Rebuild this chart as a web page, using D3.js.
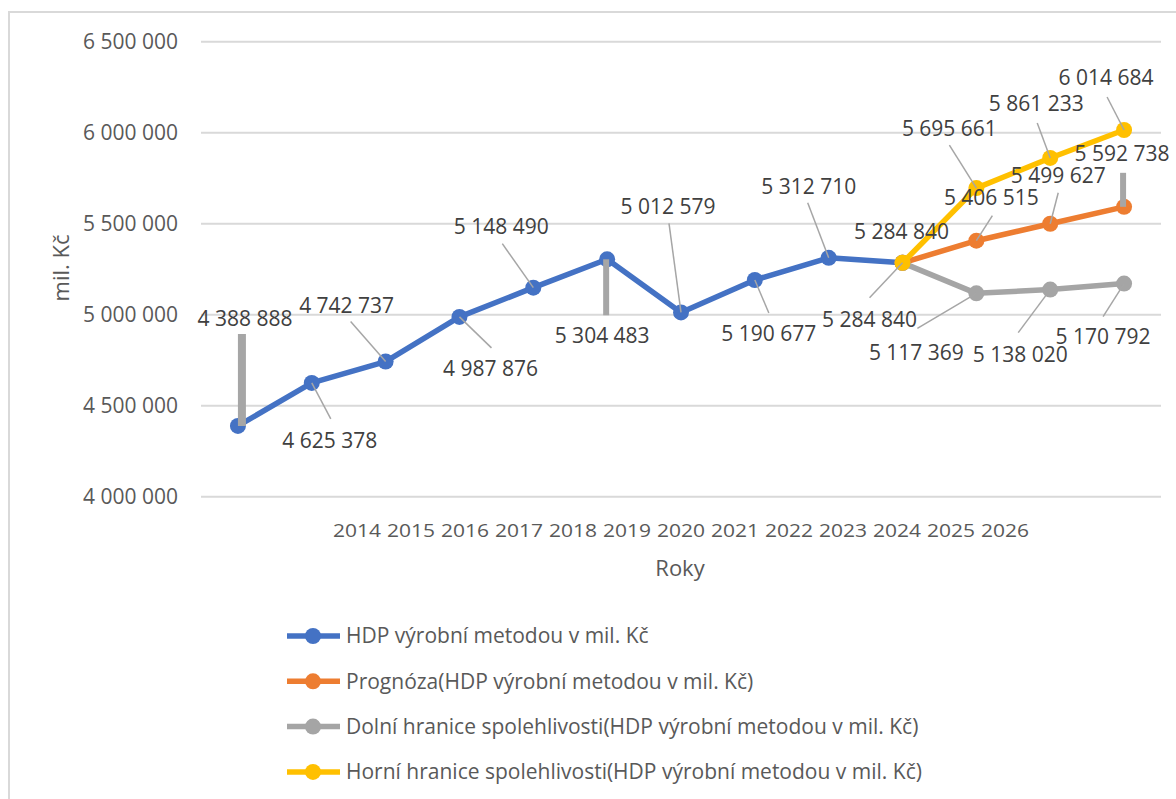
<!DOCTYPE html>
<html>
<head>
<meta charset="utf-8">
<script src="https://d3js.org/d3.v7.min.js"></script>
<style>
  body { margin: 0; background: #fff; }
  svg { display: block; font-family: "Open Sans", sans-serif; }
  .grid line { stroke: #d9d9d9; stroke-width: 2px; }
  .tick-y { fill: #595959; font-size: 21px; }
  .tick-x { fill: #595959; font-size: 19px; }
  .axis-title { fill: #595959; font-size: 22px; }
  .dlabel { fill: #404040; font-size: 21px; }
  .leader { stroke: #a6a6a6; }
  .legend text { fill: #595959; font-size: 21px; }
</style>
</head>
<body>
<svg width="1176" height="799"></svg>
<script>
// categories
var years = [2014, 2015, 2016, 2017, 2018, 2019, 2020, 2021, 2022, 2023, 2024, 2025, 2026];
var yTicks = [4000000, 4500000, 5000000, 5500000, 6000000, 6500000];

// series values (null = no value for that year)
var hdp      = [4388888, 4625378, 4742737, 4987876, 5148490, 5304483, 5012579, 5190677, 5312710, 5284840, null, null, null];
var prognoza = [null, null, null, null, null, null, null, null, null, 5284840, 5406515, 5499627, 5592738];
var dolni    = [null, null, null, null, null, null, null, null, null, 5284840, 5117369, 5138020, 5170792];
var horni    = [null, null, null, null, null, null, null, null, null, 5284840, 5695661, 5861233, 6014684];

var seriesNames = [
  "HDP výrobní metodou v mil. Kč",
  "Prognóza(HDP výrobní metodou v mil. Kč)",
  "Dolní hranice spolehlivosti(HDP výrobní metodou v mil. Kč)",
  "Horní hranice spolehlivosti(HDP výrobní metodou v mil. Kč)"
];
var colors = ["#4472c4", "#ed7d31", "#a5a5a5", "#ffc000"];

// label placement (Excel moved them by hand): [label dx, label dy, leader dx, leader dy, leader width]
var hdpLabelPos = [[7,-107,4,-92,8],[18,58,19,36,1.5],[-39,-56,-35,-40,1.5],[31,52,32,31,1.5],[-32,-61,-31,-44,1.5],
                   [-5,76,-1,56,6],[-13,-106,-12,-89,1.5],[14,54,14,33,1.5],[-20,-71,-21,-55,1.5],[-1,-31,0,0,0],
                   null,null,null];
var progLabelPos = [null,null,null,null,null,null,null,null,null,null,[15,-43,16,-25,1.5],[8,-48,8,-31,1.5],[-2,-53,-1,-34,6]];
var dolniLabelPos = [null,null,null,null,null,null,null,null,null,[-33,57,-33,35,1.5],[-60,59,-59,35,1.5],[-30,65,-32,43,1.5],[-21,53,-21,33,1.5]];
var horniLabelPos = [null,null,null,null,null,null,null,null,null,null,[-27,-59,-27,-43,1.5],[-14,-54,-13,-35,1.5],[-18,-52,-17,-33,1.5]];

var svg = d3.select("svg");
var fmt = function(v) { return d3.format(",")(v).replace(/,/g, " "); };

var x = d3.scalePoint().domain(years).range([201, 1161]).padding(0.5);
var y = d3.scaleLinear().domain([4000000, 6500000]).range([496.7, 41.7]);
// Excel squeezed the category labels together
var xLab = d3.scalePoint().domain(years).range([357, 1005]);

// chart border
svg.append("rect").attr("x", 9).attr("y", 12).attr("width", 1300).attr("height", 900)
  .attr("fill", "none").attr("stroke", "#d9d9d9").attr("stroke-width", 2);

// gridlines
svg.append("g").attr("class", "grid").selectAll("line").data(yTicks).enter().append("line")
  .attr("x1", 201).attr("x2", 1161)
  .attr("y1", function(d) { return y(d); }).attr("y2", function(d) { return y(d); });

svg.append("g").selectAll("text").data(yTicks).enter().append("text")
  .attr("class", "tick-y").attr("x", 178).attr("y", function(d) { return y(d); })
  .attr("dy", "0.35em").attr("text-anchor", "end").text(fmt);

svg.append("g").selectAll("text").data(years).enter().append("text")
  .attr("class", "tick-x").attr("x", function(d) { return xLab(d); }).attr("y", 530)
  .attr("dy", "0.35em").attr("text-anchor", "middle")
  .attr("textLength", 48).attr("lengthAdjust", "spacingAndGlyphs").text(function(d) { return d; });

svg.append("text").attr("class", "axis-title").attr("x", 680).attr("y", 568).attr("dy", "0.35em")
  .attr("text-anchor", "middle").text("Roky");
svg.append("text").attr("class", "axis-title").attr("transform", "translate(61,268) rotate(-90)")
  .attr("dy", "0.35em").attr("text-anchor", "middle").text("mil. Kč");

var allSeries = [
  { vals: hdp, pos: hdpLabelPos, color: colors[0] },
  { vals: prognoza, pos: progLabelPos, color: colors[1] },
  { vals: dolni, pos: dolniLabelPos, color: colors[2] },
  { vals: horni, pos: horniLabelPos, color: colors[3] }
];

var line = d3.line()
  .defined(function(d) { return d.v != null; })
  .x(function(d) { return x(d.year); })
  .y(function(d) { return y(d.v); });

// draw order as in Excel: later series on top
allSeries.forEach(function(s) {
  var pts = years.map(function(yr, i) { return { year: yr, v: s.vals[i], pos: s.pos[i] }; });
  svg.append("path").datum(pts).attr("d", line)
    .attr("fill", "none").attr("stroke", s.color).attr("stroke-width", 5.5)
    .attr("stroke-linejoin", "round").attr("stroke-linecap", "round");
  svg.append("g").selectAll("circle").data(pts.filter(function(d) { return d.v != null; }))
    .enter().append("circle")
    .attr("cx", function(d) { return x(d.year); }).attr("cy", function(d) { return y(d.v); })
    .attr("r", 8).attr("fill", s.color);
});

// data labels with leader lines
allSeries.forEach(function(s) {
  var pts = years.map(function(yr, i) { return { year: yr, v: s.vals[i], pos: s.pos[i] }; })
    .filter(function(d) { return d.v != null && d.pos; });
  var g = svg.append("g");
  g.selectAll("line").data(pts.filter(function(d) { return d.pos[4] > 0; })).enter().append("line")
    .attr("class", "leader")
    .attr("x1", function(d) { return x(d.year) + d.pos[2]; })
    .attr("y1", function(d) { return y(d.v) + d.pos[3]; })
    .attr("x2", function(d) { return x(d.year) + (d.pos[4] > 3 ? d.pos[2] : 0); })
    .attr("y2", function(d) { return y(d.v); })
    .attr("stroke-width", function(d) { return d.pos[4]; });
  g.selectAll("text").data(pts).enter().append("text")
    .attr("class", "dlabel")
    .attr("x", function(d) { return x(d.year) + d.pos[0]; })
    .attr("y", function(d) { return y(d.v) + d.pos[1]; })
    .attr("dy", "0.35em").attr("text-anchor", "middle")
    .text(function(d) { return fmt(d.v); });
});

// legend
var legend = svg.append("g").attr("class", "legend");
var item = legend.selectAll("g").data(seriesNames).enter().append("g")
  .attr("transform", function(d, i) { return "translate(0," + (636 + i * 45.3) + ")"; });
item.append("line").attr("x1", 287).attr("x2", 340)
  .attr("stroke", function(d, i) { return colors[i]; }).attr("stroke-width", 5.5);
item.append("circle").attr("cx", 313).attr("r", 8).attr("fill", function(d, i) { return colors[i]; });
item.append("text").attr("x", 346).attr("dy", "0.35em").text(function(d) { return d; });
</script>
</body>
</html>
